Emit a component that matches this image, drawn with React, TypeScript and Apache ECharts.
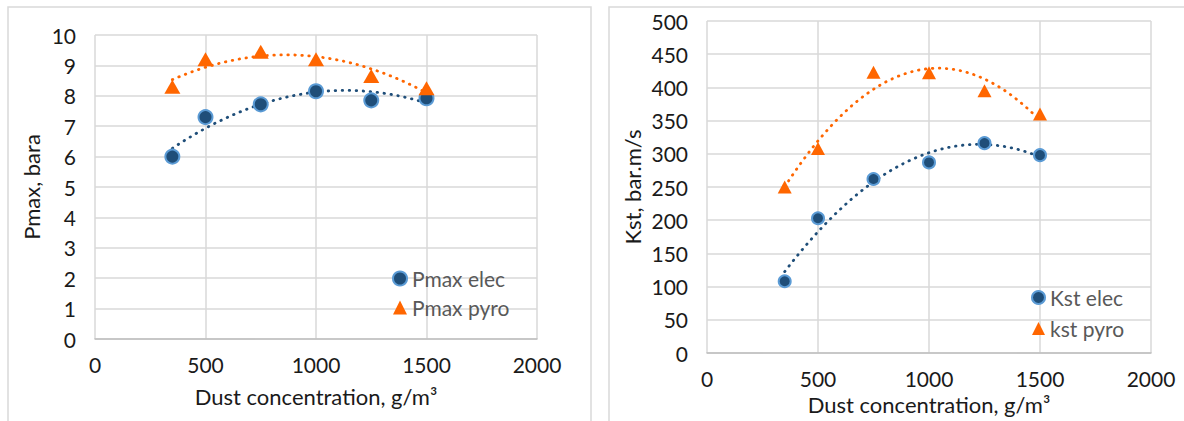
import React, { useEffect, useRef } from "react";
import * as echarts from "echarts";

const concentration = [350, 500, 750, 1000, 1250, 1500];
const pmaxElec = [6.0, 7.3, 7.72, 8.15, 7.85, 7.92];
const pmaxPyro = [8.3, 9.2, 9.45, 9.2, 8.65, 8.25];
const kstElec = [108, 203, 262, 287, 316, 298];
const kstPyro = [250, 308, 423, 422, 395, 360];

const BLUE = "#1F4E79";
const BLUE_EDGE = "#5B9BD5";
const ORANGE = "#FF6600";
const GRID = "#D9D9D9";
const FONT = "Lato";

// Excel-style order-2 polynomial trendline (least squares) over the data's x range
function polyTrend(xs: number[], ys: number[]): number[][] {
  let s0 = 0, s1 = 0, s2 = 0, s3 = 0, s4 = 0, t0 = 0, t1 = 0, t2 = 0;
  for (let i = 0; i < xs.length; i++) {
    const x = xs[i], y = ys[i];
    s0 += 1; s1 += x; s2 += x * x; s3 += x * x * x; s4 += x * x * x * x;
    t0 += y; t1 += x * y; t2 += x * x * y;
  }
  const A = [
    [s4, s3, s2, t2],
    [s3, s2, s1, t1],
    [s2, s1, s0, t0],
  ];
  for (let c = 0; c < 3; c++) {
    for (let r = c + 1; r < 3; r++) {
      const f = A[r][c] / A[c][c];
      for (let k = c; k < 4; k++) A[r][k] -= f * A[c][k];
    }
  }
  const sol = [0, 0, 0];
  for (let r = 2; r >= 0; r--) {
    let v = A[r][3];
    for (let k = r + 1; k < 3; k++) v -= A[r][k] * sol[k];
    sol[r] = v / A[r][r];
  }
  const [a, b, c] = sol;
  const lo = Math.min(...xs), hi = Math.max(...xs);
  const out: number[][] = [];
  const n = 80;
  for (let i = 0; i <= n; i++) {
    const x = lo + ((hi - lo) * i) / n;
    out.push([x, a * x * x + b * x + c]);
  }
  return out;
}

const pairs = (xs: number[], ys: number[]) => xs.map((x, i) => [x, ys[i]]);

export default function App() {
  const ref = useRef<HTMLDivElement>(null);
  useEffect(() => {
    if (!ref.current) return;
    const chart = echarts.init(ref.current, null, { renderer: "svg" });

    const xAxisBase = (gridIndex: number, gap: number) => ({
      type: "value" as const,
      gridIndex,
      min: 0,
      max: 2000,
      interval: 500,
      name: "Dust concentration, g/m³",
      nameLocation: "middle" as const,
      nameGap: gap,
      nameTextStyle: { fontFamily: FONT, fontSize: 22, color: "#1a1a1a" },
      axisLine: { show: true, lineStyle: { color: "#BFBFBF", width: 1.5 } },
      axisTick: { show: false },
      axisLabel: {
        fontFamily: FONT,
        fontSize: 21,
        color: "#1a1a1a",
        margin: 15,
        formatter: (v: number) => String(v),
      },
      splitLine: { show: true, lineStyle: { color: GRID, width: 1.5 } },
    });

    const yAxisBase = (gridIndex: number, name: string, max: number, interval: number, gap: number) => ({
      type: "value" as const,
      gridIndex,
      min: 0,
      max,
      interval,
      name,
      nameLocation: "middle" as const,
      nameGap: gap,
      nameTextStyle: { fontFamily: FONT, fontSize: 22, color: "#1a1a1a" },
      axisLine: { show: false },
      axisTick: { show: false },
      axisLabel: {
        fontFamily: FONT,
        fontSize: 21,
        color: "#1a1a1a",
        margin: 19,
        formatter: (v: number) => String(v),
      },
      splitLine: { show: true, lineStyle: { color: GRID, width: 1.5 } },
    });

    const circle = (name: string, xi: number, data: number[][], size: number) => ({
      name,
      type: "scatter" as const,
      xAxisIndex: xi,
      yAxisIndex: xi,
      data,
      symbol: "circle",
      symbolSize: size,
      itemStyle: { color: BLUE, borderColor: BLUE_EDGE, borderWidth: 2, opacity: 1 },
      z: 5,
    });
    const tri = (name: string, xi: number, data: number[][], size: number[]) => ({
      name,
      type: "scatter" as const,
      xAxisIndex: xi,
      yAxisIndex: xi,
      data,
      symbol: "triangle",
      symbolSize: size,
      itemStyle: { color: ORANGE, opacity: 1 },
      z: 5,
    });
    const trend = (name: string, xi: number, data: number[][], color: string) => ({
      name,
      type: "line" as const,
      xAxisIndex: xi,
      yAxisIndex: xi,
      data,
      showSymbol: false,
      symbol: "none",
      silent: true,
      lineStyle: { color, width: 2.8, type: [0.5, 6.5], cap: "round" },
      z: 3,
    });

    chart.setOption({
      animation: false,
      backgroundColor: "#ffffff",
      grid: [
        { left: 95, top: 35, width: 442, height: 304 },
        { left: 707, top: 21, width: 444, height: 332 },
      ],
      xAxis: [xAxisBase(0, 46), xAxisBase(1, 40)],
      yAxis: [
        yAxisBase(0, "Pmax, bara", 10, 1, 53),
        yAxisBase(1, "Kst, bar.m/s", 500, 50, 64),
      ],
      legend: [
        {
          data: ["Pmax elec", "Pmax pyro"],
          orient: "vertical",
          left: 387,
          top: 263,
          itemGap: 8,
          itemWidth: 14,
          itemHeight: 14,
          textStyle: { fontFamily: FONT, fontSize: 21, color: "#595959" },
        },
        {
          data: ["Kst elec", "kst pyro"],
          orient: "vertical",
          left: 1026,
          top: 282,
          itemGap: 10,
          itemWidth: 13,
          itemHeight: 13,
          textStyle: { fontFamily: FONT, fontSize: 21, color: "#595959" },
        },
      ],
      graphic: [
        { type: "rect", shape: { x: 8, y: 7, width: 583, height: 440 }, style: { fill: "none", stroke: GRID, lineWidth: 1.5 }, silent: true },
        { type: "rect", shape: { x: 609, y: 7, width: 600, height: 440 }, style: { fill: "none", stroke: GRID, lineWidth: 1.5 }, silent: true },
      ],
      series: [
        trend("Pmax elec trend", 0, polyTrend(concentration, pmaxElec), BLUE),
        trend("Pmax pyro trend", 0, polyTrend(concentration, pmaxPyro), ORANGE),
        circle("Pmax elec", 0, pairs(concentration, pmaxElec), 14),
        tri("Pmax pyro", 0, pairs(concentration, pmaxPyro), [16, 14]),
        trend("Kst elec trend", 1, polyTrend(concentration, kstElec), BLUE),
        trend("kst pyro trend", 1, polyTrend(concentration, kstPyro), ORANGE),
        circle("Kst elec", 1, pairs(concentration, kstElec), 12),
        tri("kst pyro", 1, pairs(concentration, kstPyro), [14, 13]),
      ],
    });
    return () => chart.dispose();
  }, []);
  return (
    <div
      ref={ref}
      style={{ position: "fixed", left: 0, top: 0, width: 1184, height: 421 }}
    />
  );
}
